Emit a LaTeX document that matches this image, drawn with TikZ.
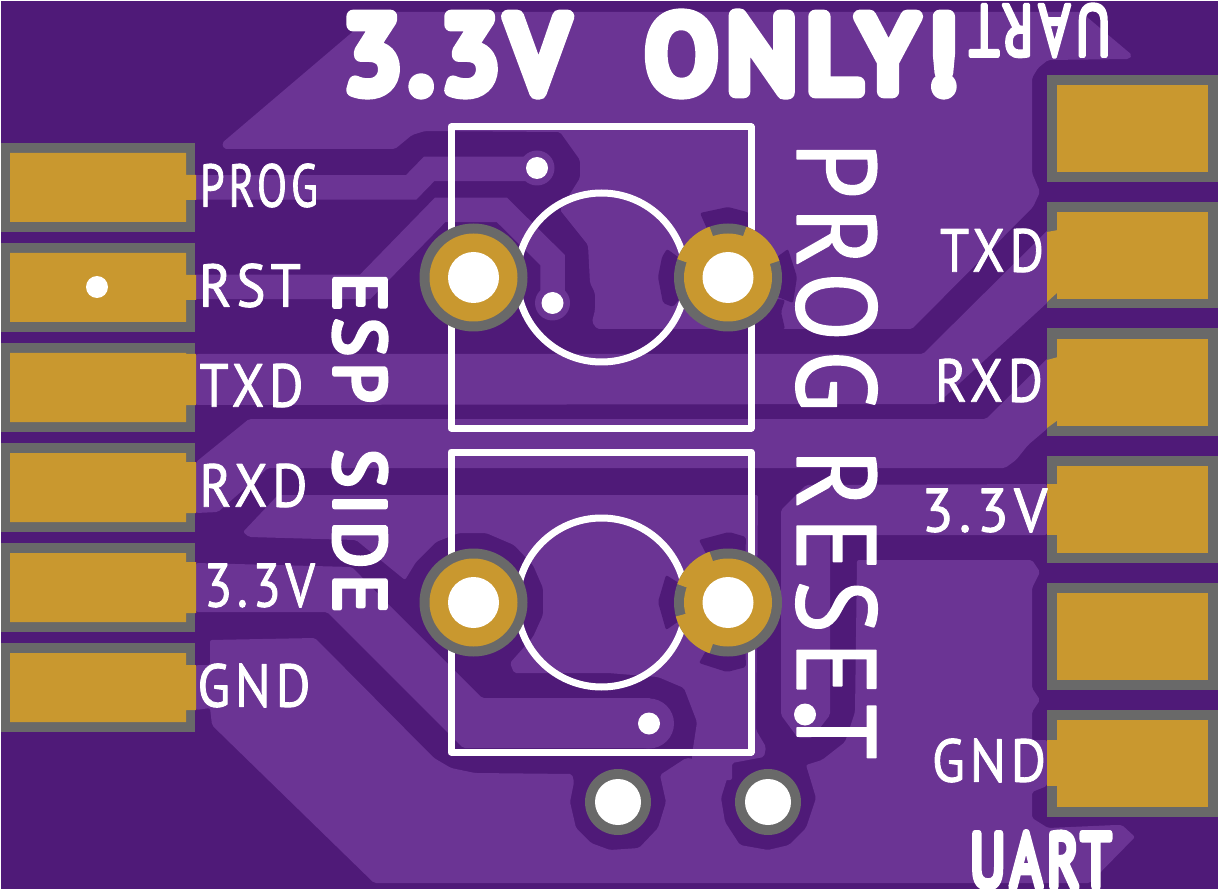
\documentclass[tikz,border=0pt]{standalone}
\usepackage{fontspec}
\usepackage{graphicx}
\newfontfamily\silkfont[LetterSpace=9]{PT Sans}
\definecolor{maskdark}{HTML}{4F1A78}
\definecolor{masklight}{HTML}{6B3494}
\definecolor{padgold}{HTML}{C9982F}
\definecolor{ringgrey}{HTML}{696969}
% text filled and stroked, so that its ends come out round
\newcommand{\strokerun}[2]{\special{pdf:code 2 Tr #1 w 1 j 1 J}#2\special{pdf:code 0 Tr}}
\newcommand{\silklabel}[4]{\resizebox{#1pt}{#2pt}{\silkfont\strokerun{#3}{#4}}}
\tikzset{
    copper/.style={fill=masklight,rounded corners=2pt},
    gap/.style={fill=maskdark,rounded corners=2pt},
    trace/.style={draw=masklight,line width=24.5pt},
    silk/.style={draw=white,line width=7pt,line join=round},
    padring/.style={fill=ringgrey},
    padface/.style={fill=padgold},
    drillhole/.style={fill=white},
    silktext/.style={text=white,inner sep=0pt,outer sep=0pt}
}
\begin{document}
\begin{tikzpicture}[x=1pt,y=-1pt]
\useasboundingbox (0,0) rectangle (1218,890);
\clip (0,0) rectangle (1218,890);
\fill[maskdark] (1,1) rectangle (1218,889);
% copper pours
\fill[copper] (222,143) -- (224,149) -- (395,149) -- (412,135) -- (425,131) -- (560,132) -- (580,160) -- (580,178) -- (560,210) -- (588,245) -- (590,283) -- (595,293) -- (595,310) -- (592,322) -- (597,329) -- (912,329) -- (1033,207) -- (1040,192) -- (1032,173) -- (1032,78) -- (1038,68) -- (1048,60) -- (1129,59) -- (1132,55) -- (1081,12) -- (376,12) -- cycle;
\fill[copper] (196,354) -- (923,354) -- (1048,230) -- (1048,302) -- (937,404) -- (196,405) -- cycle;
\fill[copper] (196,462) -- (249,419) -- (986,419) -- (1048,358) -- (1048,428) -- (1028,445) -- (1016,460) -- (1005,468) -- (268,468) -- (218,512) -- (196,513) -- cycle;
\fill[copper] (243,532) -- (278,495) -- (758,495) -- (756,730) -- (766,747) -- (764,757) -- (732,763) -- (732,780) -- (692,780) -- (692,755) -- (697,722) -- (684,688) -- (658,677) -- (608,673) -- (514,673) -- (510,663) -- (533,637) -- (543,615) -- (543,588) -- (533,565) -- (514,545) -- (486,533) -- (459,533) -- (436,542) -- (416,562) -- (405,580) -- (356,540) -- (249,537) -- cycle;
\fill[copper] (196,665) -- (210,665) -- (210,640) -- (315,638) -- (434,758) -- (451,768) -- (475,773) -- (572,774) -- (574,782) -- (570,802) -- (576,828) -- (591,843) -- (610,850) -- (639,848) -- (658,828) -- (666,802) -- (660,775) -- (686,758) -- (732,763) -- (721,798) -- (725,822) -- (740,845) -- (768,850) -- (789,845) -- (806,828) -- (816,798) -- (810,778) -- (806,765) -- (822,760) -- (845,742) -- (855,712) -- (857,560) -- (1032,560) -- (1040,572) -- (1032,588) -- (1032,688) -- (1040,700) -- (1032,712) -- (1032,740) -- (1047,740) -- (1047,786) -- (1032,792) -- (1032,818) -- (1048,828) -- (1116,825) -- (1122,825) -- (1135,837) -- (1090,883) -- (374,883) -- (222,735) -- (212,725) -- (210,708) -- (196,710) -- cycle;
\fill[copper] (196,563) -- (352,567) -- (389,605) -- (482,698) -- (651,698) -- (651,748) -- (463,748) -- (447,732) -- (327,612) -- (196,612) -- cycle;
\fill[copper] (649,723.5) circle (25pt);
\fill[copper] (781,510) -- (806,485) -- (1047,484) -- (1047,535) -- (830,535) -- (830,715) -- (812,738) -- (798,738) -- (781,715) -- cycle;
% thermal gaps round the two switch pads
\fill[gap] (700,213) -- (728,207) -- (747,212) -- (755,217) -- (745,240) -- (712,240) -- cycle;
\fill[gap] (667,249) -- (662,257) -- (658,277) -- (663,303) -- (673,307) -- (695,280) -- (685,262) -- cycle;
\fill[gap] (788,249) -- (797,277) -- (793,303) -- (760,290) -- (770,262) -- cycle;
\fill[gap] (745,329) -- (745,295) -- (785,300) -- (781,312) -- (785,329) -- cycle;
\fill[gap] (699,540) -- (729,532) -- (746,537) -- (745,565) -- (712,565) -- cycle;
\fill[gap] (666,575) -- (658,602) -- (666,630) -- (695,610) -- (690,590) -- cycle;
\fill[gap] (699,663) -- (727,672) -- (746,667) -- (745,640) -- (712,640) -- cycle;
% traces to the vias
\draw[trace] (196,187.5) -- (411,187.5) -- (429,169) -- (537,169);
\draw[trace] (196,287) -- (365,287) -- (440,210) -- (502,210) -- (552.5,260) -- (552.5,303);
\fill[masklight] (537,168) circle (17.5pt);
\fill[masklight] (552.5,303) circle (17.5pt);
% switch outlines
\draw[silk] (451,127) rectangle (751,428);
\draw[silk] (451,452) rectangle (751,752);
\draw[silk] (601.5,277.5) circle (84.5pt);
\draw[silk] (601.5,602.5) circle (84.5pt);
% left pads
\fill[padring] (1,143) rectangle (195,232);
\fill[padring] (1,243) rectangle (195,332);
\fill[padring] (1,343) rectangle (195,432);
\fill[padring] (1,443) rectangle (195,532);
\fill[padring] (1,543) rectangle (195,632);
\fill[padring] (1,643) rectangle (195,732);
\fill[padface] (10,153) rectangle (186,222) (186,175) rectangle (196,200);
\fill[padface] (10,253) rectangle (186,322) (186,275) rectangle (196,300);
\fill[padface] (10,353) rectangle (186,422) (186,354) rectangle (196,405);
\fill[padface] (10,453) rectangle (186,522) (186,462) rectangle (196,513);
\fill[padface] (10,553) rectangle (186,622) (186,562) rectangle (196,613);
\fill[padface] (10,653) rectangle (186,722) (186,665) rectangle (196,710);
% right pads
\fill[padring] (1047,75) rectangle (1218,182);
\fill[padring] (1047,202) rectangle (1218,308);
\fill[padring] (1047,328) rectangle (1218,436);
\fill[padring] (1047,456) rectangle (1218,563);
\fill[padring] (1047,583) rectangle (1218,690);
\fill[padring] (1047,710) rectangle (1218,817);
\fill[padface] (1057,85) rectangle (1208,172);
\fill[padface] (1057,212) rectangle (1208,299);
\fill[padface] (1057,339) rectangle (1208,426);
\fill[padface] (1057,466) rectangle (1208,553);
\fill[padface] (1057,593) rectangle (1208,680);
\fill[padface] (1057,720) rectangle (1208,807);
\fill[padface] (1047,232) -- (1058,230) -- (1058,292) -- (1047,302) -- cycle;
\fill[padface] (1047,360) -- (1058,357) -- (1058,420) -- (1047,428) -- cycle;
\fill[padface] (1047,484) rectangle (1058,535);
\fill[padface] (1047,740) rectangle (1058,786);
% through hole pads
\fill[padring] (473.5,277.5) circle (54pt);
\fill[padring] (728,277.5) circle (54pt);
\fill[padring] (473.5,602.5) circle (54pt);
\fill[padring] (728,602.5) circle (54pt);
\fill[padface] (728,277.5) -- +(18:54pt) arc (18:70:54pt) -- cycle;
\fill[padface] (728,277.5) -- +(110:54pt) arc (110:160:54pt) -- cycle;
\fill[padface] (728,602.5) -- +(110:54pt) arc (110:160:54pt) -- cycle;
\fill[padface] (728,602.5) -- +(195:54pt) arc (195:250:54pt) -- cycle;
\fill[padface] (473.5,277.5) circle (44pt);
\fill[padface] (728,277.5) circle (44pt);
\fill[padface] (473.5,602.5) circle (44pt);
\fill[padface] (728,602.5) circle (44pt);
\fill[drillhole] (473.5,277.5) circle (25.5pt);
\fill[drillhole] (728,277.5) circle (25.5pt);
\fill[drillhole] (473.5,602.5) circle (25.5pt);
\fill[drillhole] (728,602.5) circle (25.5pt);
\fill[padring] (618,802) circle (33pt);
\fill[padring] (768,802) circle (33pt);
\fill[drillhole] (618,802) circle (23pt);
\fill[drillhole] (768,802) circle (23pt);
% vias
\fill[drillhole] (537,168) circle (11pt);
\fill[drillhole] (552.5,303) circle (11pt);
\fill[drillhole] (97,287) circle (11pt);
\fill[drillhole] (649,723.5) circle (11pt);
\fill[drillhole] (805,714.5) circle (11pt);
% silkscreen text
\node[silktext] (progleft) at (259,185.5) {\silklabel{118}{43}{0.15}{PROG}};
\node[silktext] (rstleft) at (250,285.5) {\silklabel{102}{43}{0.15}{RST}};
\node[silktext] (txdleft) at (251.5,385.5) {\silklabel{104}{43}{0.15}{TXD}};
\node[silktext] (rxdleft) at (253.5,485.5) {\silklabel{108}{43}{0.15}{RXD}};
\node[silktext] (vccleft) at (259.5,585.5) {\silklabel{111}{43}{0.15}{3.3V}};
\node[silktext] (gndleft) at (254,685.5) {\silklabel{113}{43}{0.15}{GND}};
\node[silktext] (txdright) at (992,250.5) {\silklabel{104}{43}{0.15}{TXD}};
\node[silktext] (rxdright) at (989,380.5) {\silklabel{108}{43}{0.15}{RXD}};
\node[silktext] (vccright) at (984.5,510.5) {\silklabel{126}{43}{0.15}{3.3V}};
\node[silktext] (gndright) at (989,760.5) {\silklabel{114}{43}{0.15}{GND}};
\node[silktext,rotate=-90] (progsw) at (836.5,277) {\silklabel{270}{80}{0.15}{PROG}};
\node[silktext,rotate=-90] (resetsw) at (836.5,604.5) {\silklabel{310}{80}{0.15}{RESET}};
\node[silktext,rotate=-90] (espside) at (360,443) {\silklabel{340}{52}{0.6}{ESP\hspace{0.65em}SIDE}};
\node[silktext,rotate=180] (uarttop) at (1040,30.5) {\silklabel{142}{52}{0.5}{UART}};
\node[silktext] (uartbot) at (1040.5,860) {\silklabel{141}{54}{0.9}{UART}};
\node[silktext] (warning) at (651,54) {\silklabel{614}{76}{1.3}{3.3V\hspace{0.75em}ONLY!}};
\end{tikzpicture}
\end{document}
